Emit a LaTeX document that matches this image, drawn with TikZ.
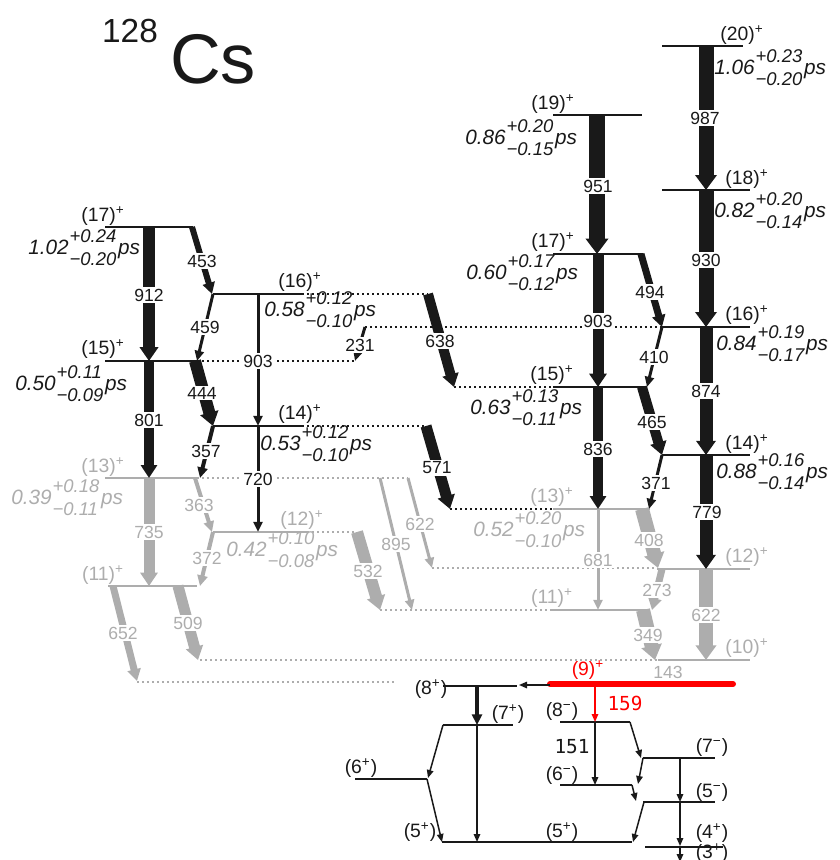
\documentclass[tikz,border=0pt]{standalone}
\usepackage{fontspec}
\setmainfont{Liberation Sans}
\newfontfamily\monofont{DejaVu Sans Mono}
\usetikzlibrary{arrows.meta}
\definecolor{gry}{gray}{0.68}
\definecolor{blk}{gray}{0.1}
\newcommand\lft[3]{\itshape #1\hspace{0.5pt}{\fontsize{10.5}{12}\selectfont\begin{tabular}{@{}l@{}}+#2\\[1pt]−#3\end{tabular}}\hspace{1pt}ps}
\begin{document}
\begin{tikzpicture}[x=0.2mm, y=-0.2mm, blk,
  lev/.style={line width=0.3mm},
  dotl/.style={line width=0.3mm, dash pattern=on 0.3mm off 0.7mm},
  gam/.style={line width=#1, -{Triangle[width=1.2mm 1, length=1.8mm 0.4]}},
  lowg/.style={line width=0.3mm, -{Triangle[width=1.3mm, length=1.6mm]}},
  en/.style={fill=white, inner sep=0.8pt, font=\fontsize{10}{12}\selectfont},
  spin/.style={inner sep=0pt, font=\fontsize{11}{13}\selectfont},
  life/.style={anchor=west, inner sep=0pt, font=\fontsize{11.8}{13}\selectfont},
  mono/.style={inner sep=0pt, font=\monofont\fontsize{11}{13}\selectfont}
]
\useasboundingbox (0,0) rectangle (839,860);

\node[inner sep=0pt, font=\fontsize{19}{21}\selectfont] (mass) at (130,31) {128};
\node[inner sep=0pt, font=\fontsize{40}{44}\selectfont] (elem) at (213,59) {Cs};

% levels, black part
\draw[lev] (105,227) -- (193,227);
\draw[lev] (105,361) -- (197,361);
\draw[lev] (213,294) -- (302,294);
\draw[lev] (213,426) -- (302,426);
\draw[lev] (553,115) -- (642,115);
\draw[lev] (553,254) -- (643,254);
\draw[lev] (662,46) -- (743,46);
\draw[lev] (662,190) -- (750,190);
\draw[lev] (662,327) -- (750,327);
\draw[lev] (553,387) -- (647,387);
\draw[lev] (662,455) -- (750,455);
\draw[dotl] (302,294) -- (428,294);
\draw[dotl] (197,361) -- (355,361);
\draw[dotl] (302,426) -- (426,426);
\draw[dotl] (365,327) -- (662,327);
\draw[dotl] (454,387) -- (553,387);
\draw[dotl] (450,509) -- (553,509);

% levels, grey part
\begin{scope}[gry]
\draw[lev] (105,478) -- (197,478);
\draw[lev] (213,532) -- (307,532);
\draw[lev] (108,586) -- (197,586);
\draw[lev] (553,509) -- (650,509);
\draw[lev] (657,569) -- (750,569);
\draw[lev] (550,610) -- (650,610);
\draw[lev] (658,660) -- (750,660);
\draw[dotl] (197,478) -- (408,478);
\draw[dotl] (307,532) -- (355,532);
\draw[dotl] (432,568) -- (657,568);
\draw[dotl] (380,610) -- (550,610);
\draw[dotl] (200,660) -- (658,660);
\draw[dotl] (137,682) -- (397,682);
\end{scope}

\draw[red, line width=1.2mm, line cap=round] (550,684) -- (733,684);

% transitions, black
\draw[gam=2.4mm] (149,227) -- (149,361);
\draw[gam=1.2mm] (192,227) -- (212,294);
\draw[gam=0.6mm] (213,294) -- (197,361);
\draw[gam=0.6mm] (258,294) -- (258,426);
\draw[gam=0.6mm] (365,327) -- (355,361);
\draw[gam=2mm] (428,294) -- (454,387);
\draw[gam=2mm] (149,361) -- (149,478);
\draw[gam=2.4mm] (195,361) -- (213,426);
\draw[gam=0.8mm] (213,426) -- (200,478);
\draw[gam=0.6mm] (258,426) -- (258,532);
\draw[gam=2.2mm] (426,426) -- (450,509);
\draw[gam=3.2mm] (597,115) -- (597,254);
\draw[gam=3mm] (706,46) -- (706,190);
\draw[gam=3mm] (706,190) -- (706,327);
\draw[gam=2.2mm] (598,254) -- (598,387);
\draw[gam=1.4mm] (641,254) -- (662,327);
\draw[gam=2.6mm] (706,327) -- (706,455);
\draw[gam=0.6mm] (662,327) -- (647,387);
\draw[gam=2mm] (598,387) -- (598,509);
\draw[gam=2mm] (642,387) -- (662,455);
\draw[gam=0.6mm] (662,455) -- (649,509);
\draw[gam=2.6mm] (706,455) -- (706,569);

% transitions, grey
\begin{scope}[gry]
\draw[gam=2.2mm] (149,478) -- (149,586);
\draw[gam=0.8mm] (195,478) -- (212,532);
\draw[gam=0.8mm] (213,532) -- (200,586);
\draw[gam=1.4mm] (113,586) -- (137,681);
\draw[gam=2.2mm] (178,586) -- (198,660);
\draw[gam=2.4mm] (357,532) -- (380,610);
\draw[gam=0.6mm] (380,478) -- (412,610);
\draw[gam=0.6mm] (408,478) -- (432,568);
\draw[gam=0.6mm] (598,509) -- (598,610);
\draw[gam=2.8mm] (642,509) -- (658,568);
\draw[gam=1.4mm] (662,569) -- (652,610);
\draw[gam=2.8mm] (706,569) -- (706,660);
\draw[gam=2.8mm] (643,610) -- (655,660);
\end{scope}

% energies
\node[en] (e912) at (149,295) {912};
\node[en] (e453) at (202,261) {453};
\node[en] (e459) at (205,327) {459};
\node[en] (e903a) at (258,361) {903};
\node[en] (e231) at (360,345) {231};
\node[en] (e638) at (440,341) {638};
\node[en] (e801) at (149,420) {801};
\node[en] (e444) at (202,393) {444};
\node[en] (e357) at (206,451) {357};
\node[en] (e720) at (258,479) {720};
\node[en] (e571) at (437,468) {571};
\node[en] (e951) at (598,186) {951};
\node[en] (e987) at (705,118) {987};
\node[en] (e930) at (706,260) {930};
\node[en] (e903b) at (598,321) {903};
\node[en] (e494) at (650,292) {494};
\node[en] (e874) at (706,391) {874};
\node[en] (e410) at (654,357) {410};
\node[en] (e836) at (598,449) {836};
\node[en] (e465) at (652,422) {465};
\node[en] (e371) at (656,483) {371};
\node[en] (e779) at (707,512) {779};
\node[en, text=gry] (e735) at (149,532) {735};
\node[en, text=gry] (e363) at (199,505) {363};
\node[en, text=gry] (e372) at (207,558) {372};
\node[en, text=gry] (e652) at (123,633) {652};
\node[en, text=gry] (e509) at (188,623) {509};
\node[en, text=gry] (e532) at (368,571) {532};
\node[en, text=gry] (e895) at (396,544) {895};
\node[en, text=gry] (e622a) at (420,524) {622};
\node[en, text=gry] (e681) at (598,560) {681};
\node[en, text=gry] (e408) at (649,540) {408};
\node[en, text=gry] (e273) at (657,590) {273};
\node[en, text=gry] (e622b) at (706,615) {622};
\node[en, text=gry] (e349) at (648,635) {349};
\node[en, text=gry] (e143) at (668,672) {143};

% spins
\node[spin] (s17a) at (103,216) {(17)\textsuperscript{+}};
\node[spin] (s15a) at (103,349) {(15)\textsuperscript{+}};
\node[spin] (s16a) at (300,282) {(16)\textsuperscript{+}};
\node[spin] (s14a) at (300,414) {(14)\textsuperscript{+}};
\node[spin] (s19) at (553,104) {(19)\textsuperscript{+}};
\node[spin] (s17b) at (553,242) {(17)\textsuperscript{+}};
\node[spin] (s20) at (742,35) {(20)\textsuperscript{+}};
\node[spin] (s18) at (747,179) {(18)\textsuperscript{+}};
\node[spin] (s16b) at (747,315) {(16)\textsuperscript{+}};
\node[spin] (s15b) at (552,375) {(15)\textsuperscript{+}};
\node[spin] (s14b) at (747,444) {(14)\textsuperscript{+}};
\node[spin, gry] (s13a) at (103,467) {(13)\textsuperscript{+}};
\node[spin, gry] (s12a) at (302,520) {(12)\textsuperscript{+}};
\node[spin, gry] (s11a) at (103,575) {(11)\textsuperscript{+}};
\node[spin, gry] (s13b) at (552,497) {(13)\textsuperscript{+}};
\node[spin, gry] (s12b) at (747,557) {(12)\textsuperscript{+}};
\node[spin, gry] (s11b) at (552,598) {(11)\textsuperscript{+}};
\node[spin, gry] (s10) at (747,648) {(10)\textsuperscript{+}};
\node[spin, red] (s9) at (588,670) {(9)\textsuperscript{+}};

% lifetimes
\node[life] (t17a) at (28,250) {\lft{1.02}{0.24}{0.20}};
\node[life] (t15a) at (15,386) {\lft{0.50}{0.11}{0.09}};
\node[life] (t16a) at (264,312) {\lft{0.58}{0.12}{0.10}};
\node[life] (t14a) at (260,446) {\lft{0.53}{0.12}{0.10}};
\node[life, gry] (t13a) at (11,500) {\lft{0.39}{0.18}{0.11}};
\node[life, gry] (t12a) at (226,552) {\lft{0.42}{0.10}{0.08}};
\node[life] (t19) at (465,140) {\lft{0.86}{0.20}{0.15}};
\node[life] (t17b) at (466,275) {\lft{0.60}{0.17}{0.12}};
\node[life] (t15b) at (470,410) {\lft{0.63}{0.13}{0.11}};
\node[life, gry] (t13b) at (473,532) {\lft{0.52}{0.20}{0.10}};
\node[life] (t20) at (714,70) {\lft{1.06}{0.23}{0.20}};
\node[life] (t18) at (714,213) {\lft{0.82}{0.20}{0.14}};
\node[life] (t16b) at (716,346) {\lft{0.84}{0.19}{0.17}};
\node[life] (t14b) at (716,474) {\lft{0.88}{0.16}{0.14}};

% low-lying part
\draw[lev] (443,686) -- (517,686);
\draw[lev] (443,725) -- (513,725);
\draw[lev] (355,779) -- (427,779);
\draw[lev] (442,842) -- (632,842);
\draw[lev] (560,722) -- (630,722);
\draw[lev] (560,785) -- (632,785);
\draw[lev] (643,758) -- (715,758);
\draw[lev] (643,802) -- (715,802);
\draw[lev] (645,847) -- (723,847);
\draw[lowg, red] (595,684) -- (595,722);
\draw[lowg] (550,685) -- (519,685);
\draw[gam=0.8mm] (477,686) -- (477,725);
\draw[lowg] (477,725) -- (477,842);
\draw[lowg] (443,725) -- (428,778);
\draw[lowg] (427,779) -- (442,842);
\draw[lowg] (595,722) -- (595,785);
\draw[lowg] (630,722) -- (641,758);
\draw[lowg] (643,758) -- (638,784);
\draw[lowg] (632,785) -- (636,801);
\draw[lowg] (644,802) -- (633,842);
\draw[lowg] (680,758) -- (680,802);
\draw[lowg] (680,802) -- (680,846);
\draw[lowg] (680,847) -- (680,862);
\node[mono, red] (e159) at (625,703) {159};
\node[mono] (e151) at (572,747) {151};
\node[spin] (s8p) at (431,689) {(8\textsuperscript{+})};
\node[spin] (s7p) at (508,714) {(7\textsuperscript{+})};
\node[spin] (s6p) at (361,768) {(6\textsuperscript{+})};
\node[spin] (s5pa) at (420,832) {(5\textsuperscript{+})};
\node[spin] (s5pb) at (562,832) {(5\textsuperscript{+})};
\node[spin] (s8m) at (562,711) {(8\textsuperscript{−})};
\node[spin] (s6m) at (562,775) {(6\textsuperscript{−})};
\node[spin] (s7m) at (712,747) {(7\textsuperscript{−})};
\node[spin] (s5m) at (712,792) {(5\textsuperscript{−})};
\node[spin] (s4p) at (712,833) {(4\textsuperscript{+})};
\node[spin] (s3p) at (712,853) {(3\textsuperscript{+})};
\end{tikzpicture}
\end{document}
